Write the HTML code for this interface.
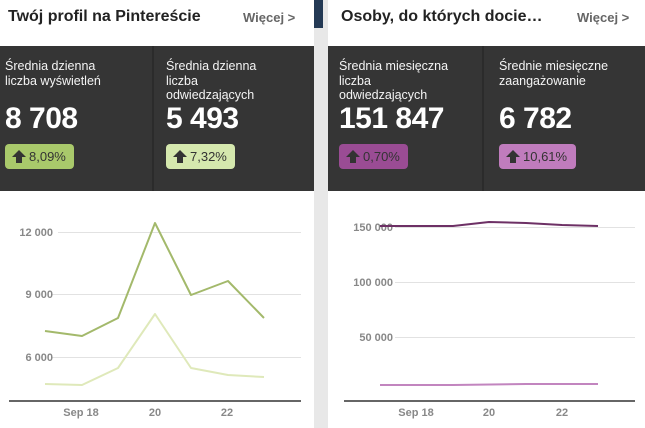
<!DOCTYPE html>
<html><head><meta charset="utf-8"><style>
*{margin:0;padding:0;box-sizing:border-box}
body{width:645px;height:428px;position:relative;background:#fff;font-family:"Liberation Sans",Arial,sans-serif;overflow:hidden}
.a{position:absolute;white-space:nowrap}
.t{font-size:16px;font-weight:bold;color:#222;top:8px}
.m{font-size:13px;font-weight:bold;color:#666;top:10px}
.dk{background:#353535;top:46px;height:145px}
.l{font-size:12.5px;color:#f4f4f4;line-height:14.5px;top:59px}
.n{font-size:30px;font-weight:bold;color:#fff;top:102px;letter-spacing:-0.5px}
.b{top:144px;height:25px;border-radius:4px;font-size:13px;line-height:25px;padding-left:24px;color:#333}
.b:before{content:"";position:absolute;left:7px;top:6px;border:7px solid transparent;border-bottom:7px solid #333;border-top:0;}
.b:after{content:"";position:absolute;left:11px;top:13px;width:6px;height:6px;background:#333}
</style></head><body>
<div class="a t" style="left:8px">Twój profil na Pintereście</div>
<div class="a m" style="left:243px">Więcej &gt;</div>
<div class="a t" style="left:341px">Osoby, do których docie…</div>
<div class="a m" style="left:577px">Więcej &gt;</div>
<div class="a" style="left:314px;top:0;width:14px;height:428px;background:#e8e8e8"></div>
<div class="a" style="left:314px;top:0;width:9px;height:28px;background:#243a55"></div>
<div class="a dk" style="left:0;width:314px"></div>
<div class="a" style="left:152px;top:46px;width:2px;height:145px;background:#2b2b2b"></div>
<div class="a dk" style="left:328px;width:317px"></div>
<div class="a" style="left:482px;top:46px;width:2px;height:145px;background:#2b2b2b"></div>

<div class="a l" style="left:5px">Średnia dzienna<br>liczba wyświetleń</div>
<div class="a n" style="left:5px">8 708</div>
<div class="a b" style="left:5px;width:69px;background:#a9c96b">8,09%</div>
<div class="a l" style="left:166px">Średnia dzienna<br>liczba<br>odwiedzających</div>
<div class="a n" style="left:166px">5 493</div>
<div class="a b" style="left:166px;width:69px;background:#d5e8ae">7,32%</div>

<div class="a l" style="left:339px">Średnia miesięczna<br>liczba<br>odwiedzających</div>
<div class="a n" style="left:339px">151 847</div>
<div class="a b" style="left:339px;width:69px;background:#9a4c94">0,70%</div>
<div class="a l" style="left:499px">Średnie miesięczne<br>zaangażowanie</div>
<div class="a n" style="left:499px">6 782</div>
<div class="a b" style="left:499px;width:77px;background:#c07cbd">10,61%</div>

<svg class="a" style="left:0;top:0" width="645" height="428" font-family="Liberation Sans, Arial, sans-serif" font-size="11" font-weight="bold" fill="#888">
<g stroke="#e2e2e2" stroke-width="1">
<line x1="58" y1="232.5" x2="301" y2="232.5"/><line x1="52" y1="294.5" x2="301" y2="294.5"/><line x1="52" y1="357.5" x2="301" y2="357.5"/>
<line x1="395" y1="227.5" x2="635" y2="227.5"/><line x1="395" y1="282.5" x2="635" y2="282.5"/><line x1="395" y1="337.5" x2="635" y2="337.5"/>
</g>
<g stroke="#666" stroke-width="2"><line x1="9" y1="401" x2="301" y2="401"/><line x1="344" y1="401" x2="635" y2="401"/></g>
<g text-anchor="end"><text x="53" y="236">12 000</text><text x="53" y="298">9 000</text><text x="53" y="361">6 000</text>
<text x="393" y="231">150 000</text><text x="393" y="286">100 000</text><text x="393" y="341">50 000</text></g>
<g text-anchor="middle"><text x="81" y="416">Sep 18</text><text x="155" y="416">20</text><text x="227" y="416">22</text>
<text x="416" y="416">Sep 18</text><text x="489" y="416">20</text><text x="562" y="416">22</text></g>
<g fill="none" stroke-width="2" stroke-linejoin="round">
<polyline stroke="#dfe9ba" points="45,384 82,385 118,368 155,314 191,368 228,375 264,377"/>
<polyline stroke="#a3b96b" points="45,331 82,336 118,318 155,223 191,295 228,281 264,318"/>
<polyline stroke="#c285bf" points="380,385 453,385 526,384 598,384"/>
<polyline stroke="#6d3065" points="380,226 453,226 489,222 526,223 562,225 598,226"/>
</g>
</svg>
</body></html>
